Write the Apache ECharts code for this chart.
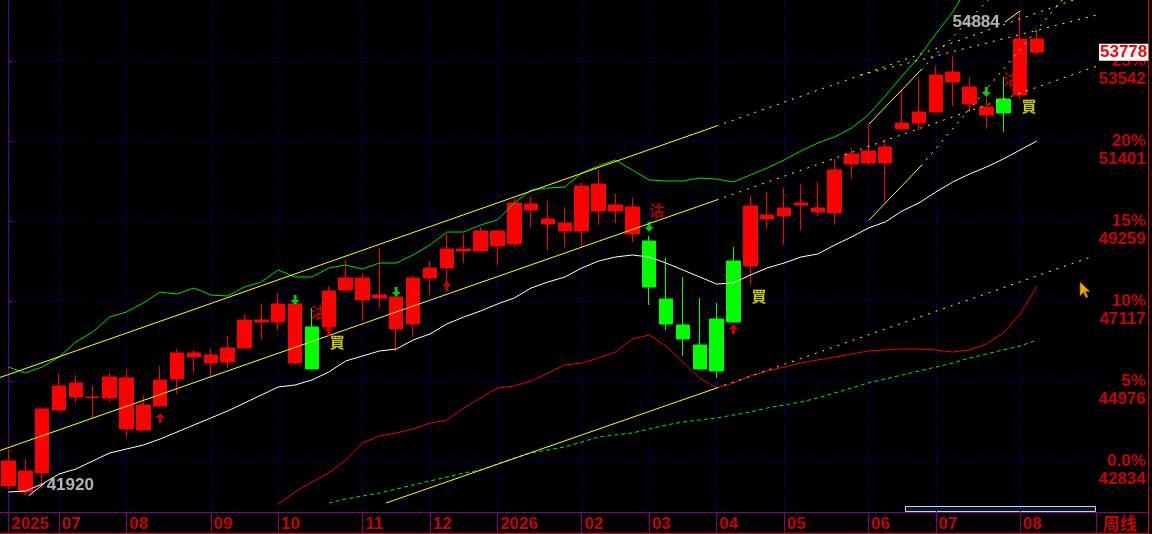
<!DOCTYPE html>
<html><head><meta charset="utf-8">
<script src="https://cdn.jsdelivr.net/npm/echarts@6/dist/echarts.min.js"></script>
<style>html,body{margin:0;padding:0;background:#000;}#c{width:1152px;height:534px;}</style>
</head><body><div id="c"></div>
<script>
// ---- categories (weekly bars) ----
const weeks = ['2025-06-13','2025-06-20','2025-06-27','2025-07-04','2025-07-11','2025-07-18','2025-07-25','2025-08-01','2025-08-08','2025-08-15','2025-08-22','2025-08-29','2025-09-05','2025-09-12','2025-09-19','2025-09-26','2025-10-03','2025-10-10','2025-10-17','2025-10-24','2025-10-31','2025-11-07','2025-11-14','2025-11-21','2025-11-28','2025-12-05','2025-12-12','2025-12-19','2025-12-26','2026-01-02','2026-01-09','2026-01-16','2026-01-23','2026-01-30','2026-02-06','2026-02-13','2026-02-20','2026-02-27','2026-03-06','2026-03-13','2026-03-20','2026-03-27','2026-04-03','2026-04-10','2026-04-17','2026-04-24','2026-05-01','2026-05-08','2026-05-15','2026-05-22','2026-05-29','2026-06-05','2026-06-12','2026-06-19','2026-06-26','2026-07-03','2026-07-10','2026-07-17','2026-07-24','2026-07-31','2026-08-07','2026-08-14','2026-08-21','2026-08-28','2026-09-04'];
const monthTickIdx = [0,3,7,12,16,21,25,29,34,38,42,46,51,55,60];
const monthTickLabels = ['2025','07','08','09','10','11','12','2026','02','03','04','05','06','07','08'];

// ---- OHLC ----
const opens  = [42165,42004,42513,44199,44547,44534,44521,43691,43664,44306,45029,45618,45457,45484,45859,46555,46555,45457,46421,46421,47412,47144,47198,46368,46501,47733,48001,48456,48456,48590,48643,49553,49178,48991,48991,49527,49527,48911,48723,47171,46475,45939,46635,48188,48054,49312,49393,49687,49500,49473,50785,50812,50812,51722,51882,52177,52980,52391,52096,52525,52632,53778];
const closes = [42834,42566,44226,44842,44922,44547,45083,45056,44333,45002,45725,45725,45672,45859,46609,46609,47037,47037,45297,47385,47733,47733,47278,47224,47733,48001,48509,48509,48991,48991,49741,49714,49312,49205,50196,50249,49687,49634,47492,46501,46100,45297,45243,46555,49660,49419,49607,49741,49607,50624,51052,51133,51240,51882,52177,53167,53248,52846,52311,52150,54131,54131];
const lows   = [42084,41920,42084,44173,44413,43985,44413,43450,43637,44280,44628,45190,45083,45324,45832,46100,46341,45404,45280,46394,47400,46582,46930,45779,46153,47278,47626,48134,48440,48081,48563,49071,48483,48563,48536,49152,49205,48697,47010,46341,45645,45270,45056,46540,47546,49045,48616,49018,49393,49152,50383,50758,49794,51710,51695,52160,52337,52177,51722,51641,52525,53703];
const highs  = [43155,42888,44280,45163,45136,44842,45217,45297,44601,45377,45832,45805,45832,46180,46742,47037,47331,47064,46930,47519,48215,47867,48536,47240,47787,48188,48911,48911,49098,49045,49875,49901,49794,49634,50276,50624,49982,49875,48860,48268,47760,47198,47064,48563,49928,50035,50142,50249,50303,50919,51213,51855,51454,52792,53114,53408,53676,53114,52578,53114,54884,54345];

// ---- overlay lines ----
const maWhite = [42004,42031,42218,42486,42620,42834,43048,43155,43262,43423,43610,43798,43985,44173,44387,44601,44815,44869,45002,45217,45511,45645,45779,45832,46073,46234,46502,46689,46850,47037,47198,47465,47626,47760,48001,48188,48295,48349,48295,48134,47947,47760,47572,47599,47813,48001,48134,48295,48375,48616,48831,49071,49232,49527,49741,50035,50303,50517,50704,50919,51160,51401];
const bandUpper = [45350,45190,45350,45618,46020,46287,46689,46823,47064,47358,47305,47465,47278,47251,47492,47626,47947,47760,47760,48001,48081,47974,48134,48134,48349,48616,48964,48964,49152,49286,49741,50089,50142,50169,50544,50731,50892,50624,50356,50330,50330,50410,50383,50303,50490,50678,50892,51133,51347,51508,51748,52096,52605,53140,53649,54265,54854,55577,null,null,null,null];
const bandLower = [null,null,null,null,null,null,null,null,null,null,null,null,null,null,null,null,41683,42004,42272,42513,42861,43316,43503,43584,43691,43851,43932,44253,44521,44788,44842,44976,45190,45404,45457,45591,45752,46100,46207,45913,45484,45056,44788,44922,45109,45243,45350,45457,45538,45618,45698,45779,45806,45832,45832,45806,45752,45806,45966,46261,46769,47519];
const maLong = [null,null,null,null,null,null,null,null,null,null,null,null,null,null,null,null,null,null,null,41710,41817,41897,41977,42084,42192,42299,42406,42513,42593,42754,42914,43048,43129,43209,43343,43477,43530,43584,43691,43798,43878,43932,43985,44065,44146,44253,44333,44413,44521,44654,44788,44922,45029,45136,45243,45350,45457,45591,45698,45806,45913,46073];

// ---- trend lines [x1, price1, x2, price2] (x = bar index) ----
const trendSolid = [[-0.5,45070,42,51802],[-0.5,43115,42,49821],[22.4,41710,42,44788],[51.04,51855,54.12,53301],[51.04,49286,54.12,50731]];
const trendDotted = [[42,51802,64.5,55389],[42,49821,64.5,53397],[42,44788,64.2,48295],[54.12,53301,58.1,55175],[54.12,50731,62.5,55175],[50.56,53167,64.55,54774]];

// ---- signals ----
const upArrows = [[9,43985],[19,46314],[26,47519],[43,46368]];
const downArrows = [[17,47144],[23,47358],[38,49098],[58,52712]];
const sellMarks = [[18.38,46823],[38.47,49553],[59.46,53060]];
const buyMarks = [[19.5,46020],[44.52,47251],[60.52,52337]];
const hiPoint = [60,54884], loPoint = [1,41920];
const lastPrice = 53778;

// ---- right axis ----
const gridPrices = [42834,44976,47117,49259,51401,53542];
const gridPcts = ['0.0%','5%','10%','15%','20%','25%'];
const yMin = 41469, yMax = 55175;

const chart = echarts.init(document.getElementById('c'));
const RED = '#cc0000', PURPLE = '#800080';
const candle = weeks.slice(0, opens.length).map((w, i) => [opens[i], closes[i], lows[i], highs[i]]);
const lineSer = (data, color, type, z) => ({type:'line', data, xAxisIndex:0, yAxisIndex:0, symbol:'none', showSymbol:false, connectNulls:false, z: z||3, lineStyle:{color, width:1, type: type||'solid'}, silent:true, animation:false});
const segSer = (s, color, type) => ({type:'line', xAxisIndex:1, yAxisIndex:0, data:[[s[0],s[1]],[s[2],s[3]]], symbol:'none', showSymbol:false, z:4, lineStyle:{color, width:1, type}, silent:true, animation:false, clip:true});
const isTick = i => monthTickIdx.indexOf(i) >= 0;
const upPath = 'path://M4.5,0 L9,5 L6,5 L6,10 L3,10 L3,5 L0,5 Z';
const downPath = 'path://M3,0 L6,0 L6,5 L9,5 L4.5,10 L0,5 L3,5 Z';

const series = [
  {type:'line', data: weeks.map(() => null), z:1, silent:true, animation:false,
   markLine:{z:1, silent:true, symbol:['none','none'], label:{show:false},
     lineStyle:{color:'#0000c8', width:1, type:[1,2]},
     data: monthTickIdx.map(i => ({xAxis: weeks[i]}))}},
  {type:'candlestick', data: candle, barWidth:14, z:2, animation:false,
   itemStyle:{color:'#ff0000', color0:'#00ff00', borderColor:'#ff0000', borderColor0:'#00ff00', borderWidth:1},
   markLine:{silent:true, symbol:['none','none'], animation:false,
     lineStyle:{color:'rgba(0,0,0,0)', width:0},
     label:{show:true, position:'end', distance:3, formatter: String(lastPrice), color:'#ff0000', backgroundColor:'#ffffff', fontWeight:'bold', fontSize:17, fontFamily:'Liberation Sans', padding:[0,1,0,1], opacity:1},
     data:[{yAxis: lastPrice}]}},
  {type:'scatter', xAxisIndex:1, data: sellMarks, symbolSize:0, z:1, silent:true, animation:false,
   label:{show:true, position:'inside', formatter:'沽', color:'#e00000', fontSize:15, fontWeight:'bold', fontFamily:'Noto Sans CJK TC'}},
  lineSer(maWhite, '#ffffff'),
  lineSer(bandUpper, '#00e000'),
  lineSer(bandLower, '#ee0000'),
  lineSer(maLong, '#00ee00', [4,3]),
];
trendSolid.forEach(s => series.push(segSer(s, '#ffff00', 'solid')));
trendDotted.forEach(s => series.push(segSer(s, '#ffff00', [2,6])));
series.push(
  {type:'scatter', xAxisIndex:1, data: upArrows, symbol: upPath, symbolSize:[9,10], itemStyle:{color:'#ff0000'}, z:6, silent:true, animation:false},
  {type:'scatter', xAxisIndex:1, data: downArrows, symbol: downPath, symbolSize:[9,10], itemStyle:{color:'#00ff00'}, z:6, silent:true, animation:false},
  {type:'scatter', xAxisIndex:1, data: buyMarks, symbolSize:0, z:6, silent:true, animation:false,
   label:{show:true, position:'inside', formatter:'買', color:'#ffff00', fontSize:15, fontWeight:'bold', fontFamily:'Noto Sans CJK TC'}},
  {type:'scatter', xAxisIndex:1, data:[hiPoint], symbolSize:0, z:6, silent:true, animation:false,
   label:{show:true, position:'inside', offset:[-44,11], formatter: p => String(p.value[1]), color:'#e0e0e0', fontSize:17, fontWeight:'bold', fontFamily:'Liberation Sans'}},
  {type:'scatter', xAxisIndex:1, data:[loPoint], symbolSize:0, z:6, silent:true, animation:false,
   label:{show:true, position:'inside', offset:[45,-10], formatter: p => String(p.value[1]), color:'#e0e0e0', fontSize:17, fontWeight:'bold', fontFamily:'Liberation Sans'}},
  {type:'line', xAxisIndex:1, data:[[hiPoint[0],hiPoint[1]],[59.1,54586]], symbol:'none', lineStyle:{color:'#ffffff', width:1}, z:6, silent:true, animation:false},
  {type:'line', xAxisIndex:1, data:[[1.2,41900],[2.15,42245]], symbol:'none', lineStyle:{color:'#ffffff', width:1}, z:6, silent:true, animation:false}
);

chart.setOption({
  backgroundColor:'#000000',
  animation:false,
  grid:{left:-1, right:56, top:0, bottom:22, containLabel:false},
  xAxis:[
    {type:'category', data: weeks, boundaryGap:true,
     axisLine:{show:true, lineStyle:{color:PURPLE, width:1}},
     axisTick:{show:true, alignWithLabel:true, length:21, interval:(i)=>isTick(i), lineStyle:{color:PURPLE}},
     axisLabel:{show:true, interval:(i)=>isTick(i), formatter:(v,i)=>monthTickLabels[monthTickIdx.indexOf(i)], align:'left', padding:[0,0,0,3], margin:4, color:RED, fontSize:17, fontWeight:'bold', fontFamily:'Liberation Sans'},
     splitLine:{show:false}},
    {type:'value', min:-0.5, max: weeks.length - 0.5, show:false, splitLine:{show:false}}
  ],
  yAxis:[
    {type:'value', position:'right', min:yMin, max:yMax,
     axisLine:{show:true, lineStyle:{color:PURPLE}},
     axisTick:{show:true, length:4, customValues: gridPrices, lineStyle:{color:PURPLE}},
     axisLabel:{customValues: gridPrices, formatter: v => gridPcts[gridPrices.indexOf(v)] || '', color:RED, fontSize:17, fontWeight:'bold', fontFamily:'Liberation Sans', align:'right', margin:50},
     splitLine:{show:true, lineStyle:{color:'#0000c8', width:1, type:[1,2]}}},
    {type:'value', position:'right', min:yMin, max:yMax,
     axisLine:{show:false}, axisTick:{show:false}, splitLine:{show:false},
     axisLabel:{customValues: gridPrices, formatter: v => String(v), color:RED, fontSize:17, fontWeight:'bold', fontFamily:'Liberation Sans', align:'right', margin:50, verticalAlign:'top', padding:[10,0,0,0]}}
  ],
  graphic:[
    {type:'line', shape:{x1:1096.5, y1:512, x2:1096.5, y2:533}, style:{stroke:PURPLE, lineWidth:1}, silent:true},
    {type:'line', shape:{x1:1096, y1:512.5, x2:1148, y2:512.5}, style:{stroke:PURPLE, lineWidth:1}, silent:true},
    {type:'line', shape:{x1:0, y1:533.5, x2:1149, y2:533.5}, style:{stroke:'#dd0000', lineWidth:1}, silent:true},
    {type:'line', shape:{x1:1148.5, y1:0, x2:1148.5, y2:534}, style:{stroke:'#dd0000', lineWidth:1}, silent:true},
    {type:'rect', shape:{x:905.5, y:506.5, width:190, height:5}, style:{fill:'#0b1838', stroke:'#d0d0d0', lineWidth:1}, silent:true},
    {type:'text', left:1103, top:515, style:{text:'周线', fill:RED, font:'bold 17px "Noto Sans CJK SC"'}, silent:true},
    {type:'polygon', x:1080, y:282, shape:{points:[[0,0],[0,14],[3.5,10.5],[6,16],[8,15],[5.5,9.5],[10,9.5]]}, style:{fill:'#f0a800', stroke:'#7a5000', lineWidth:0.6}, silent:true}
  ],
  series
});
</script>
</body></html>
